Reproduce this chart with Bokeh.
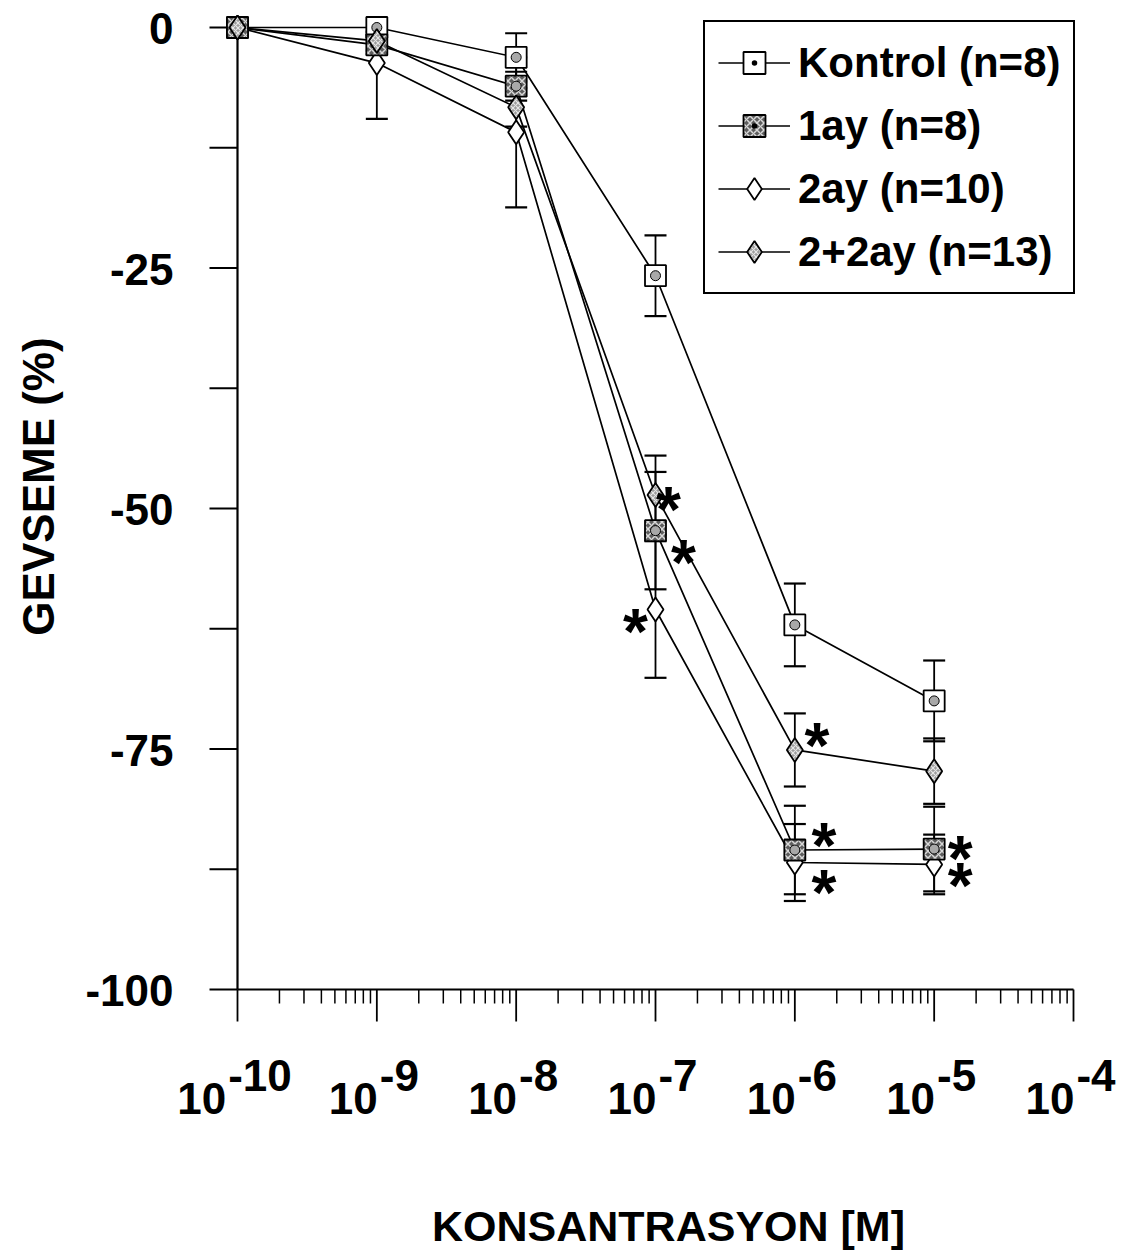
import math
from bokeh.plotting import figure
from bokeh.models import Range1d, Legend, LegendItem
from bokeh.core.properties import value
from bokeh.embed import file_html
from bokeh.resources import INLINE

# ---------------- data ----------------
concentrations = [1e-10, 1e-9, 1e-8, 1e-7, 1e-6, 1e-5]

kontrol_mean = [0.0, 0.0, -3.1, -25.8, -62.1, -70.0]
kontrol_sem = [0.0, 0.5, 2.5, 4.2, 4.3, 4.2]
kontrol_sig = [False, False, False, False, False, False]

ay1_mean = [0.0, -1.8, -6.1, -52.3, -85.5, -85.4]
ay1_sem = [0.0, 1.0, 1.5, 6.1, 4.6, 4.4]
ay1_sig = [False, False, False, True, True, True]

ay2_mean = [0.0, -3.7, -10.9, -60.5, -86.8, -87.0]
ay2_sem = [0.0, 5.8, 7.8, 7.1, 4.0, 3.1]
ay2_sig = [False, False, False, True, True, True]

ay22_mean = [0.0, -1.4, -8.3, -48.6, -75.1, -77.3]
ay22_sem = [0.0, 1.0, 2.0, 4.1, 3.8, 3.4]
ay22_sig = [False, False, False, True, True, False]

series_labels = ["Kontrol (n=8)", "1ay (n=8)", "2ay (n=10)", "2+2ay (n=13)"]

y_major_ticks = [0, -25, -50, -75, -100]
y_minor_ticks = [-12.5, -37.5, -62.5, -87.5]
x_decades = [-10, -9, -8, -7, -6, -5, -4]

x_title = "KONSANTRASYON [M]"
y_title = "GEVSEME (%)"

# ---------------- layout ----------------
W, H = 1135, 1258
X_PX0, X_PX1 = 237, 1073      # 1e-10 and 1e-4
Y_PX0, Y_PX1 = 27, 989        # 0 and -100
PPD = (X_PX1 - X_PX0) / 6.0
PPU = (Y_PX1 - Y_PX0) / 100.0
Y_TOP = 0.0                    # upper limit of the value axis


def xd(px):
    return 10 ** (-10 + (px - X_PX0) / PPD)


def yd(py):
    return -(py - Y_PX0) / PPU


FONT = value("Liberation Sans")

p = figure(width=W, height=H, x_axis_type="log",
           x_range=Range1d(xd(0), xd(W)), y_range=Range1d(yd(H), yd(0)),
           output_backend="svg", toolbar_location=None, min_border=0,
           x_axis_location=None, y_axis_location=None,
           outline_line_color=None, background_fill_color="white")
p.grid.visible = False

# ---------------- axes drawn by hand ----------------
xmin, xmax = 10.0 ** x_decades[0], 10.0 ** x_decades[-1]
p.segment(x0=[xmin], y0=[-100], x1=[xmin], y1=[0], line_color="black", line_width=2.2)
p.segment(x0=[xmin], y0=[-100], x1=[xmax], y1=[-100], line_color="black", line_width=2.2)

yt = y_major_ticks + y_minor_ticks
p.segment(x0=[xd(X_PX0 - 28)] * len(yt), y0=yt, x1=[xmin] * len(yt), y1=yt,
          line_color="black", line_width=1.8)
p.text(x=[xmin] * len(y_major_ticks), y=y_major_ticks,
       text=[str(v) for v in y_major_ticks], x_offset=-64, y_offset=1,
       text_align="right", text_baseline="middle", text_font=FONT,
       text_font_style="bold", text_font_size="44px", text_color="black")

major_x = [10.0 ** d for d in x_decades]
p.segment(x0=major_x, y0=[-100] * len(major_x), x1=major_x,
          y1=[yd(Y_PX1 + 32)] * len(major_x), line_color="black", line_width=1.8)
minor_x = [m * 10.0 ** d for d in x_decades[:-1] for m in range(2, 10)]
p.segment(x0=minor_x, y0=[-100] * len(minor_x), x1=minor_x,
          y1=[yd(Y_PX1 + 14)] * len(minor_x), line_color="black", line_width=1.5)

FS_X = 44
for d in x_decades:
    exp_txt = str(d)
    w1 = 2 * 0.556 * FS_X
    w2 = (0.333 + 0.556 * (len(exp_txt) - 1)) * FS_X
    anchor = -(w1 + w2) / 2 + w1 - 4
    p.text(x=[10.0 ** d], y=[-100], text=["10"], x_offset=anchor, y_offset=109,
           text_align="right", text_baseline="alphabetic", text_font=FONT,
           text_font_style="bold", text_font_size=f"{FS_X}px", text_color="black")
    p.text(x=[10.0 ** d], y=[-100], text=[exp_txt], x_offset=anchor + 2, y_offset=86,
           text_align="left", text_baseline="alphabetic", text_font=FONT,
           text_font_style="bold", text_font_size=f"{FS_X}px", text_color="black")

p.text(x=[xd(668)], y=[yd(1225)], text=[x_title], text_align="center",
       text_baseline="middle", text_font=FONT, text_font_style="bold",
       text_font_size="43px", text_color="black")
p.text(x=[xd(38)], y=[yd(486)], text=[y_title], angle=math.pi / 2,
       text_align="center", text_baseline="middle", text_font=FONT,
       text_font_style="bold", text_font_size="44px", text_color="black")

# ---------------- series ----------------
series = [
    ("kontrol", kontrol_mean, kontrol_sem, kontrol_sig),
    ("ay1", ay1_mean, ay1_sem, ay1_sig),
    ("ay2", ay2_mean, ay2_sem, ay2_sig),
    ("ay22", ay22_mean, ay22_sem, ay22_sig),
]

line_r = {}
for key, mean, sem, sig in series:
    line_r[key] = p.line(concentrations, mean, line_color="black", line_width=1.7)

for key, mean, sem, sig in series:
    xs = [c for c, s in zip(concentrations, sem) if s > 0]
    lo = [m - s for m, s in zip(mean, sem) if s > 0]
    hi_raw = [m + s for m, s in zip(mean, sem) if s > 0]
    hi = [min(h, Y_TOP) for h in hi_raw]
    p.segment(x0=xs, y0=lo, x1=xs, y1=hi, line_color="black", line_width=1.8)
    p.scatter(xs, lo, marker="dash", size=22, line_color="black", line_width=2.2)
    cap_x = [x for x, h in zip(xs, hi_raw) if h <= Y_TOP]
    cap_y = [h for h in hi_raw if h <= Y_TOP]
    p.scatter(cap_x, cap_y, marker="dash", size=22, line_color="black", line_width=2.2)

marker_style = {
    "kontrol": dict(marker="square_dot", size=21, fill_color="white"),
    "ay2": dict(marker="diamond", size=24, fill_color="white"),
    "ay1": dict(marker="square_dot", size=21, fill_color="#5e5e5e", hatch_pattern="x",
                hatch_color="#d8d8d8", hatch_scale=7, hatch_weight=1.5),
    "ay22": dict(marker="diamond", size=24, fill_color="#9c9c9c", hatch_pattern="x",
                 hatch_color="#e6e6e6", hatch_scale=5, hatch_weight=1.2),
}
means = {k: m for k, m, s, g in series}
marker_r = {}
for key in ["kontrol", "ay2", "ay1", "ay22"]:
    marker_r[key] = p.scatter(concentrations, means[key], line_color="black",
                              line_width=1.8, **marker_style[key])
    if key in ("kontrol", "ay1"):
        p.scatter(concentrations, means[key], marker="circle", size=10,
                  fill_color="#a8a8a8", line_color="black", line_width=1)

# significance asterisks (offsets in screen pixels from the point)
star_offsets = {
    ("ay22", 3): (13, 5), ("ay1", 3): (28, 22), ("ay2", 3): (-20, 12),
    ("ay22", 4): (22, -14), ("ay1", 4): (29, -14), ("ay2", 4): (29, 20),
    ("ay1", 5): (26, 0), ("ay2", 5): (26, 12),
}
for key, mean, sem, sig in series:
    for i, flag in enumerate(sig):
        if flag:
            dx, dy = star_offsets.get((key, i), (24, 0))
            p.text(x=[concentrations[i]], y=[mean[i]], text=["*"], x_offset=dx,
                   y_offset=dy + 10, text_align="center", text_baseline="alphabetic",
                   text_font=FONT, text_font_style="bold", text_font_size="64px",
                   text_color="black")

# ---------------- legend ----------------
legend = Legend(items=[
    LegendItem(label=series_labels[0], renderers=[line_r["kontrol"], marker_r["kontrol"]]),
    LegendItem(label=series_labels[1], renderers=[line_r["ay1"], marker_r["ay1"]]),
    LegendItem(label=series_labels[2], renderers=[line_r["ay2"], marker_r["ay2"]]),
    LegendItem(label=series_labels[3], renderers=[line_r["ay22"], marker_r["ay22"]]),
], location=(703, H - 294), orientation="vertical",
    border_line_color="black", border_line_width=2, border_line_alpha=1.0,
    background_fill_color="white", background_fill_alpha=1.0,
    padding=13, spacing=8, margin=0,
    glyph_width=72, glyph_height=55, label_height=55, label_standoff=8,
    label_text_font="Liberation Sans", label_text_font_style="bold",
    label_text_font_size="42px", label_text_color="black")
p.add_layout(legend)

open("out.html", "w").write(file_html(p, INLINE))
